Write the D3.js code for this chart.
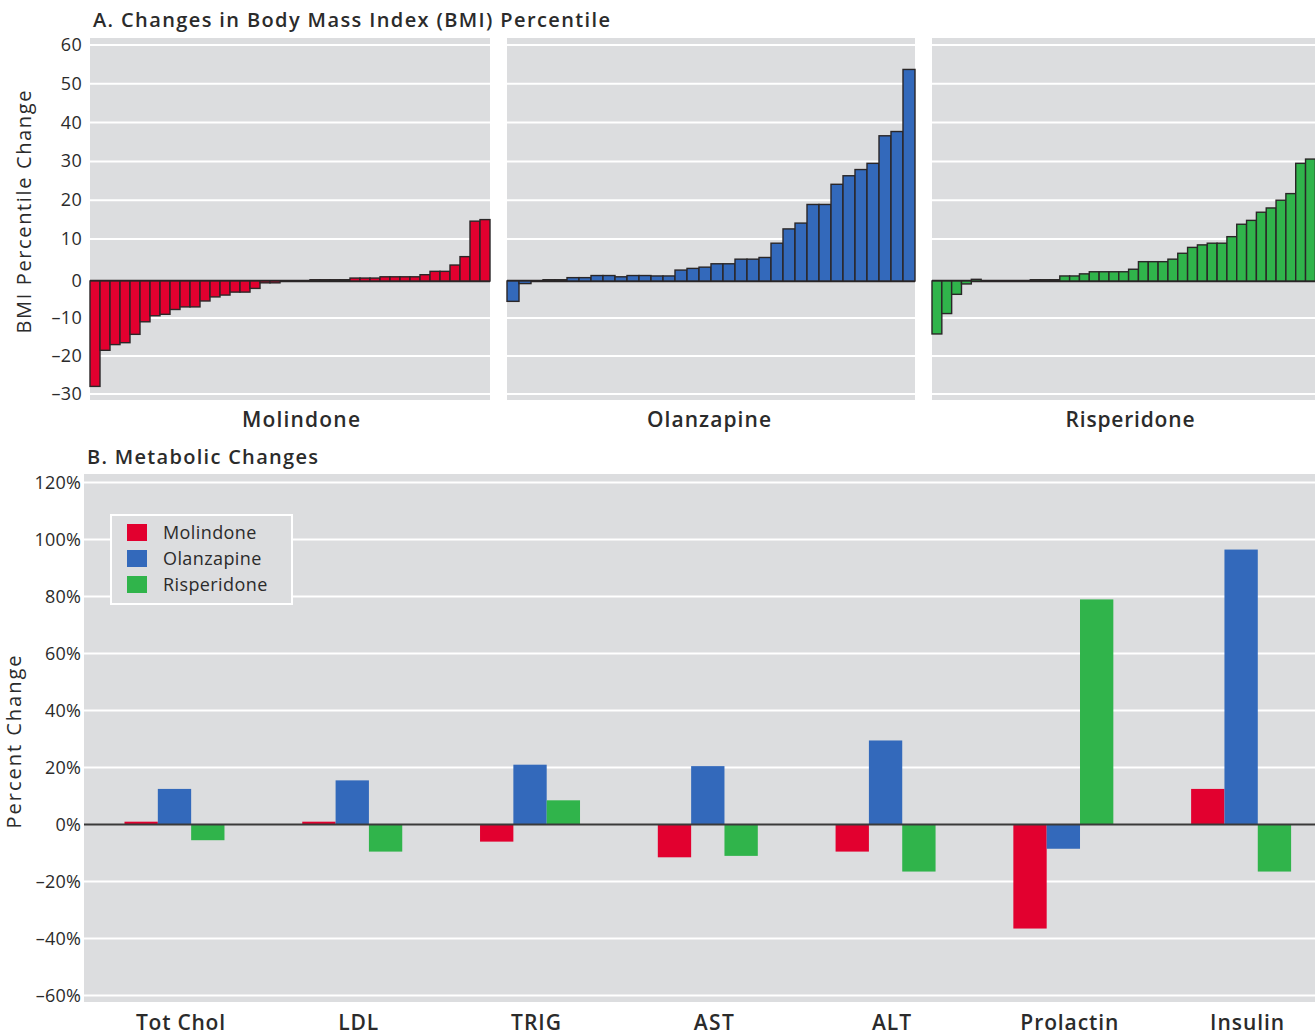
<!DOCTYPE html>
<html>
<head>
<meta charset="utf-8">
<script src="https://cdn.jsdelivr.net/npm/d3@7"></script>
<style>
  html, body { margin: 0; padding: 0; background: #fff; }
  svg { display: block; }
  text { font-family: "Open Sans", "Noto Sans", sans-serif; fill: #2b2b2b; }
</style>
</head>
<body>
<svg id="chart" width="1315" height="1035"></svg>
<script>
// ---- Panel A: per-patient change in BMI percentile, sorted ascending ----
const molindoneBMI = [-28, -18.5, -17, -16.5, -14.3, -11, -9.4, -9, -7.7, -7, -7, -5.4, -4.3, -3.8, -3, -3,
  -2, -0.5, -0.5, 0, 0, 0, 0.3, 0.3, 0.3, 0.3, 0.7, 0.7, 0.7, 1, 1, 1, 1, 1.5, 2.3, 2.3, 3.8, 5.8, 14.6, 15];
const olanzapineBMI = [-5.5, -0.7, 0, 0.3, 0.3, 0.8, 0.8, 1.3, 1.3, 1.0, 1.3, 1.3, 1.2, 1.2, 2.6, 3.0, 3.3,
  4.1, 4.1, 5.2, 5.2, 5.6, 9.0, 12.6, 14.1, 18.9, 18.9, 24.1, 26.3, 27.9, 29.5, 36.6, 37.7, 53.7];
const risperidoneBMI = [-14.2, -8.8, -3.6, -0.8, 0.4, 0, 0, 0, 0, 0, 0.3, 0.3, 0.3, 1.2, 1.2, 1.7, 2.2, 2.2,
  2.2, 2.2, 2.8, 4.6, 4.6, 4.6, 5.2, 6.6, 8.0, 8.6, 9.0, 9.0, 10.6, 13.8, 14.8, 16.9, 18.0, 20.0, 21.7, 29.5, 30.6];
const bmiTicks = [-30, -20, -10, 0, 10, 20, 30, 40, 50, 60];

// ---- Panel B: mean percent change in metabolic measures ----
const measures = ["Tot Chol", "LDL", "TRIG", "AST", "ALT", "Prolactin", "Insulin"];
const drugs = ["Molindone", "Olanzapine", "Risperidone"];
const molindonePct = [1, 1, -6, -11.5, -9.5, -36.5, 12.5];
const olanzapinePct = [12.5, 15.5, 21, 20.5, 29.5, -8.5, 96.5];
const risperidonePct = [-5.5, -9.5, 8.5, -11, -16.5, 79, -16.5];
const pctTicks = [-60, -40, -20, 0, 20, 40, 60, 80, 100, 120];

const colors = { Molindone: "#e2002f", Olanzapine: "#3369bb", Risperidone: "#30b44b" };
const panelBg = "#dcdddf";
const minus = s => String(s).replace("-", "\u2013");

const svg = d3.select("#chart");

// text helper: optional target width keeps the typeset length consistent
function label(sel, opts) {
  const t = sel.append("text")
    .attr("x", opts.x).attr("y", opts.y)
    .attr("text-anchor", opts.anchor || "start")
    .style("font-size", opts.size + "px")
    .style("font-weight", opts.weight || 400)
    .text(opts.text);
  if (opts.transform) t.attr("transform", opts.transform);
  if (opts.width) t.attr("textLength", opts.width).attr("lengthAdjust", "spacing");
  if (opts.spacing) t.style("letter-spacing", opts.spacing + "px");
  return t;
}

// ================= Panel A =================
// the printed axis has a slightly wider step around zero
const yA = d3.scaleLinear().domain([-30, -10, 0, 10, 60]).range([394, 318, 281, 239, 45]);
const aTop = 38, aBottom = 400;

const panels = [
  { name: "Molindone", values: molindoneBMI, x0: 90, step: 10, bgWidth: 400, labelX: 301, labelW: 118 },
  { name: "Olanzapine", values: olanzapineBMI, x0: 507, step: 12, bgWidth: 408, labelX: 709, labelW: 124 },
  { name: "Risperidone", values: risperidoneBMI, x0: 932, step: 9.83, bgWidth: 400, labelX: 1130, labelW: 129 }
];

label(svg, { x: 93, y: 27, size: 20, weight: 600, width: 517,
  text: "A. Changes in Body Mass Index (BMI) Percentile" });

panels.forEach(p => {
  const g = svg.append("g");
  const x = d3.scaleBand()
    .domain(d3.range(p.values.length))
    .range([p.x0, p.x0 + p.values.length * p.step])
    .padding(0);

  g.append("rect")
    .attr("x", p.x0).attr("y", aTop)
    .attr("width", p.bgWidth).attr("height", aBottom - aTop)
    .attr("fill", panelBg);

  g.selectAll("line.grid").data(bmiTicks.filter(t => t !== 0)).join("line")
    .attr("class", "grid")
    .attr("x1", p.x0).attr("x2", p.x0 + p.bgWidth)
    .attr("y1", d => yA(d)).attr("y2", d => yA(d))
    .attr("stroke", "#fff").attr("stroke-width", 2);

  g.append("line")
    .attr("x1", p.x0).attr("x2", p.x0 + p.bgWidth)
    .attr("y1", yA(0)).attr("y2", yA(0))
    .attr("stroke", "#2a2627").attr("stroke-width", 2.5);

  g.selectAll("rect.bar").data(p.values).join("rect")
    .attr("class", "bar")
    .attr("x", (d, i) => x(i))
    .attr("width", x.bandwidth())
    .attr("y", d => yA(Math.max(0, d)))
    .attr("height", d => Math.abs(yA(d) - yA(0)))
    .attr("fill", colors[p.name])
    .attr("stroke", "#2a2627").attr("stroke-width", 1.4);

  label(svg, { x: p.labelX, y: 427, anchor: "middle", size: 21, weight: 600,
    width: p.labelW, text: p.name });
});

// left axis for panel A
const axA = svg.append("g");
bmiTicks.forEach(d => {
  label(axA, { x: 82, y: yA(d) + 6, anchor: "end", size: 18, spacing: 0.3, text: minus(d) });
});

label(svg, { x: 0, y: 0, anchor: "middle", size: 20, width: 243,
  transform: "translate(31,212) rotate(-90)", text: "BMI Percentile Change" });

// ================= Panel B =================
const yB = d3.scaleLinear().domain([-60, 120]).range([995.5, 482.6]);
const bLeft = 84, bTop = 474, bBottom = 1002, bRight = 1315;

const pInner = 1 - 100 / 177.8;
const x0B = d3.scaleBand().domain(measures).range([85.6, 1330])
  .paddingInner(pInner).paddingOuter(pInner / 2);
const x1B = d3.scaleBand().domain(drugs).range([0, x0B.bandwidth()]).padding(0);

const seriesB = { Molindone: molindonePct, Olanzapine: olanzapinePct, Risperidone: risperidonePct };

label(svg, { x: 87, y: 464, size: 20, weight: 600, width: 231, text: "B. Metabolic Changes" });

svg.append("rect")
  .attr("x", bLeft).attr("y", bTop)
  .attr("width", bRight - bLeft).attr("height", bBottom - bTop)
  .attr("fill", panelBg);

svg.append("g").selectAll("line").data(pctTicks.filter(t => t !== 0)).join("line")
  .attr("x1", bLeft).attr("x2", bRight)
  .attr("y1", d => yB(d)).attr("y2", d => yB(d))
  .attr("stroke", "#fff").attr("stroke-width", 2);

const groups = svg.append("g").selectAll("g").data(measures).join("g")
  .attr("transform", d => `translate(${x0B(d)},0)`);

groups.selectAll("rect").data((m, i) => drugs.map(dr => ({ drug: dr, value: seriesB[dr][i] }))).join("rect")
  .attr("x", d => x1B(d.drug))
  .attr("width", x1B.bandwidth())
  .attr("y", d => yB(Math.max(0, d.value)))
  .attr("height", d => Math.abs(yB(d.value) - yB(0)))
  .attr("fill", d => colors[d.drug]);

svg.append("line")
  .attr("x1", bLeft).attr("x2", bRight)
  .attr("y1", yB(0)).attr("y2", yB(0))
  .attr("stroke", "#3a3a3a").attr("stroke-width", 2);

const axB = svg.append("g");
pctTicks.forEach(d => {
  label(axB, { x: 81, y: yB(d) + 6, anchor: "end", size: 18, spacing: 0.2, text: minus(d) + "%" });
});

const catWidths = { "Tot Chol": 89, "LDL": 40, "TRIG": 50, "AST": 40, "ALT": 39, "Prolactin": 98, "Insulin": 74 };
measures.forEach(m => {
  label(svg, { x: x0B(m) + x0B.bandwidth() / 2 + 6, y: 1030, anchor: "middle", size: 21, weight: 600,
    width: catWidths[m], text: m });
});

label(svg, { x: 0, y: 0, anchor: "middle", size: 20, width: 173,
  transform: "translate(21,742) rotate(-90)", text: "Percent Change" });

// legend
const lg = svg.append("g");
lg.append("rect")
  .attr("x", 111).attr("y", 515).attr("width", 181).attr("height", 89)
  .attr("fill", panelBg).attr("stroke", "#fff").attr("stroke-width", 2);
drugs.forEach((d, i) => {
  const item = lg.append("g").attr("transform", `translate(127,${532 + i * 26})`);
  item.append("rect")
    .attr("x", 0).attr("y", -8).attr("width", 20).attr("height", 17)
    .attr("fill", colors[d]);
  label(item, { x: 36, y: 7, size: 18, spacing: 0.4, text: d });
});
</script>
</body>
</html>
